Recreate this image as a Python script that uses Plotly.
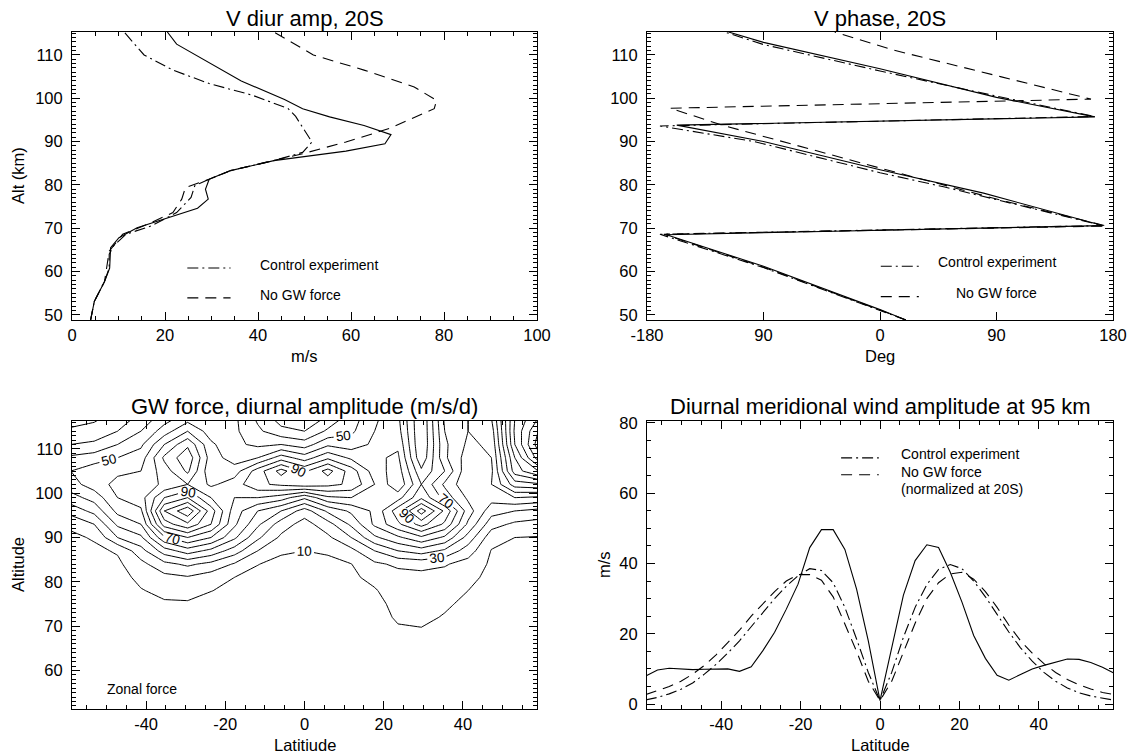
import plotly.graph_objects as go

FONT = "Liberation Sans, Arial, Helvetica, sans-serif"

# ---------------- V diurnal amplitude at 20S (m/s) ----------------
amp_gw_alt = [48.8, 53.1, 57.7, 60.8, 65.5, 67.8, 70.1, 73.2, 74.6, 76.7, 79.0, 81.3, 83.3, 85.6,
              87.8, 89.5, 91.6, 93.7, 95.7, 97.6, 99.7, 104.0, 112.5, 115.3]
amp_gw = [4.0, 4.8, 7.0, 8.1, 8.3, 10.1, 14.0, 23.3, 27.0, 29.3, 28.7, 29.5, 34.1, 43.4,
          58.9, 67.3, 68.6, 62.8, 55.4, 49.6, 45.7, 36.4, 22.5, 20.5]

amp_ctrl_alt = [48.8, 53.1, 57.7, 60.8, 64.0, 66.0, 68.6, 70.5, 73.6, 77.1, 79.8, 81.3, 83.3, 85.6,
                87.5, 89.9, 95.8, 97.6, 100.7, 103.4, 106.5, 110.0, 115.3]
amp_ctrl = [4.0, 4.8, 7.0, 8.0, 8.0, 9.0, 11.6, 17.0, 22.5, 25.6, 26.4, 29.5, 34.1, 43.4,
            49.6, 51.6, 48.1, 46.5, 38.8, 29.5, 21.7, 15.5, 11.2]

amp_nogw_alt = [48.8, 53.1, 57.7, 61.0, 64.7, 68.6, 70.8, 73.6, 76.7, 79.4, 81.3, 83.3, 85.6,
                87.2, 89.9, 93.0, 97.6, 99.5, 102.6, 106.5, 110.0, 115.3]
amp_nogw = [4.0, 4.8, 7.0, 7.5, 8.0, 10.9, 16.0, 21.7, 23.6, 24.4, 29.5, 34.1, 43.4,
            49.6, 58.9, 68.2, 77.9, 78.4, 73.6, 62.8, 51.9, 43.4]

# ---------------- V diurnal phase at 20S (deg) ----------------
ph_gw_alt = [48.8, 51.2, 61.2, 68.5, 70.6, 78.1, 83.5, 90.0, 93.8, 95.7, 100.2, 106.8, 112.9, 115.3]
ph_gw = [20, 0, -90, -165, 172, 80, 0, -90, -157, 166, 90, 0, -90, -117]

ph_ctrl_alt = [48.8, 51.0, 60.9, 68.6, 70.6, 79.5, 82.8, 90.0, 93.6, 95.8, 100.5, 106.3, 112.4, 115.3]
ph_ctrl = [20, 0, -90, -170, 172, 50, 0, -97, -170, 166, 90, 0, -90, -120]

ph_nogw_alt = [48.8, 51.1, 61.0, 68.6, 70.5, 76.5, 83.8, 88.8, 93.8, 97.7, 99.8, 105.0, 111.2, 115.3]
ph_nogw = [20, 0, -90, -167, 175, 93, 1, -60, -122, -162, 163, 93, 9.5, -35]

# ---------------- GW zonal force, diurnal amplitude (m/s/d) ----------------
gw_lat = [-59.0, -53.1, -47.2, -41.3, -35.4, -29.5, -23.6, -17.7, -11.8, -5.9, 0.0,
          5.9, 11.8, 17.7, 23.6, 29.5, 35.4, 41.3, 47.2, 53.1, 59.0]
gw_alt = [51, 54, 57, 60, 63, 66, 69, 72, 75, 78, 81, 84, 87, 90, 93, 96, 99, 102, 105, 108, 111, 114, 117]
gw_force = [
    [1, 1, 1, 1, 1, 1, 1, 1, 1, 1, 1, 1, 1, 2, 2, 2, 2, 2, 1, 1, 1],
    [1, 1, 1, 1, 1, 1, 1, 1, 1, 1, 1, 1, 1, 2, 2, 3, 2, 2, 1, 1, 1],
    [1, 1, 1, 1, 2, 2, 2, 1, 1, 1, 1, 1, 2, 3, 3, 3, 3, 2, 2, 1, 1],
    [1, 1, 1, 2, 2, 2, 2, 2, 1, 1, 1, 1, 2, 3, 4, 4, 4, 3, 2, 1, 1],
    [2, 2, 2, 2, 3, 3, 3, 2, 2, 2, 2, 2, 3, 4, 5, 5, 5, 4, 3, 2, 2],
    [2, 2, 2, 3, 3, 4, 3, 3, 2, 2, 2, 3, 4, 5, 7, 7, 6, 5, 3, 3, 2],
    [2, 2, 3, 4, 5, 5, 5, 4, 3, 3, 3, 4, 5, 6, 9, 9.5, 8, 6, 4, 3, 3],
    [3, 3, 3, 5, 6, 6, 5, 5, 4, 3, 3, 4, 6, 7, 11, 11.5, 9.5, 7, 5, 4, 3],
    [3, 3, 4, 7, 9, 9, 7, 6, 5, 4, 4, 5, 7, 8, 12, 13, 11, 8.5, 6, 5, 4],
    [4, 4, 6, 9.5, 12, 13, 10.2, 8, 6, 5, 5, 6, 8, 9.5, 13, 14, 13, 10, 7, 6, 5],
    [4, 5, 7, 12, 17, 19, 15, 10, 8, 6, 6, 7, 9, 11.5, 16, 17, 16, 12, 8, 7, 6],
    [5, 7, 8, 17, 27, 32, 27, 19, 10.2, 8, 8, 8, 9.8, 18, 22, 23, 21, 16, 8.5, 8, 7],
    [6, 8, 11, 26, 45, 55, 47, 35, 20, 11, 10, 11, 17, 30, 40, 45, 38, 25, 9.5, 7, 6],
    [8, 11, 30, 38, 68, 80, 70, 52, 32, 18, 14, 18, 30, 48, 58, 68, 58, 36, 14, 10, 9.5],
    [12, 20, 42, 50, 95, 108, 90, 62, 42, 25, 16, 26, 42, 62, 78, 94, 78, 48, 24, 18, 16],
    [24, 33, 53, 58, 110, 128, 95, 65, 50, 40, 25, 42, 52, 62, 86, 115, 88, 55, 34, 30, 27],
    [36, 44, 60, 66, 90, 100, 80, 70, 70, 65, 52, 68, 70, 66, 66, 88, 66, 48, 44, 50, 48],
    [46, 55, 63, 64, 72, 80, 68, 75, 88, 92, 96, 93, 88, 70, 52, 80, 58, 42, 50, 75, 78],
    [50, 56, 58, 60, 75, 92, 62, 65, 85, 104, 88, 104, 85, 65, 55, 88, 70, 42, 48, 95, 110],
    [42, 45, 50, 55, 82, 97, 65, 55, 60, 75, 65, 78, 68, 62, 58, 98, 62, 45, 50, 100, 135],
    [30, 32, 40, 48, 70, 88, 62, 52, 48, 50, 45, 58, 55, 62, 62, 100, 62, 48, 52, 110, 145],
    [22, 24, 30, 40, 55, 70, 55, 52, 42, 33, 30, 42, 48, 60, 66, 100, 60, 50, 55, 112, 140],
    [15, 18, 24, 33, 45, 55, 50, 52, 38, 25, 20, 32, 45, 58, 68, 100, 58, 50, 60, 110, 130],
]

# ---------------- Diurnal meridional wind amplitude at 95 km ----------------
lat95 = [-59.0, -56.05, -53.1, -50.15, -47.2, -44.25, -41.3, -38.35, -35.4, -32.45, -29.5,
         -26.55, -23.6, -20.65, -17.7, -14.75, -11.8, -8.85, -5.9, -2.95, 0.0, 2.95, 5.9,
         8.85, 11.8, 14.75, 17.7, 20.65, 23.6, 26.55, 29.5, 32.45, 35.4, 38.35, 41.3,
         44.25, 47.2, 50.15, 53.1, 56.05, 59.0]
v95_gw = [8.0, 9.7, 10.2, 9.9, 9.8, 9.9, 10.0, 10.0, 9.3, 10.6, 15.2,
          20.4, 27.0, 34.1, 44.5, 49.6, 49.6, 44.0, 32.7, 18.0, 1.0, 16.5, 31.0,
          40.8, 45.3, 44.5, 37.5, 29.0, 19.5, 13.0, 8.2, 6.8, 8.5, 10.0, 11.0,
          12.0, 12.8, 12.7, 11.8, 10.5, 8.8]
v95_ctrl = [1.2, 1.9, 2.9, 4.2, 6.0, 8.5, 11.3, 14.5, 18.0, 22.0, 26.0,
            30.0, 33.5, 36.5, 38.5, 38.0, 34.5, 27.5, 18.5, 9.0, 1.0, 9.0, 19.0,
            27.5, 34.0, 38.3, 39.7, 38.5, 35.0, 30.5, 25.5, 20.5, 16.0, 12.2, 9.0,
            6.5, 4.6, 3.2, 2.3, 1.6, 1.1]
v95_nogw = [2.7, 3.8, 5.0, 6.5, 8.5, 11.0, 14.0, 17.5, 21.0, 25.0, 28.5,
            32.0, 35.0, 36.8, 36.8, 35.2, 30.5, 23.0, 15.0, 6.5, 1.0, 6.5, 15.0,
            23.0, 30.0, 34.5, 37.0, 37.5, 35.5, 32.0, 27.5, 22.5, 18.0, 14.5, 11.5,
            9.0, 7.0, 5.5, 4.3, 3.3, 2.7]

legend_names = ["Control experiment", "No GW force"]

DASH = "11px,7px"
DASHDOT = "11px,4px,2px,4px"
LW = 1.1

fig = go.Figure()


def add_line(x, y, xa, ya, dash):
    fig.add_trace(go.Scatter(x=x, y=y, mode="lines", xaxis=xa, yaxis=ya, showlegend=False,
                             line=dict(color="black", width=LW, dash=dash), hoverinfo="skip"))


# top-left: amplitude profiles
add_line(amp_gw, amp_gw_alt, "x", "y", "solid")
add_line(amp_ctrl, amp_ctrl_alt, "x", "y", DASHDOT)
add_line(amp_nogw, amp_nogw_alt, "x", "y", DASH)

# top-right: phase profiles
add_line(ph_gw, ph_gw_alt, "x2", "y2", "solid")
add_line(ph_ctrl, ph_ctrl_alt, "x2", "y2", DASHDOT)
add_line(ph_nogw, ph_nogw_alt, "x2", "y2", DASH)

# bottom-left: contour of GW force amplitude, odd levels labelled
for start, labelled in [(10, True), (20, False)]:
    fig.add_trace(go.Contour(
        x=gw_lat, y=gw_alt, z=gw_force, xaxis="x3", yaxis="y3", showlegend=False,
        contours=dict(start=start, end=170, size=20, coloring="none",
                      showlabels=labelled,
                      labelfont=dict(family=FONT, size=13.5, color="black")),
        line=dict(color="black", width=1, smoothing=0),
        showscale=False, hoverinfo="skip"))

# bottom-right: latitude profiles at 95 km
add_line(lat95, v95_gw, "x4", "y4", "solid")
add_line(lat95, v95_ctrl, "x4", "y4", DASHDOT)
add_line(lat95, v95_nogw, "x4", "y4", DASH)

W, H = 1133, 756


def px(a, b):
    return [a / W, b / W]


def py(top, bot):
    return [1 - bot / H, 1 - top / H]


dom_x_left = px(72, 537)
dom_x_right = px(647, 1113)
dom_y_top = py(32, 320)
dom_y_bot = py(421, 709)

tickfont = dict(family=FONT, size=16.5, color="black")
lat_ticks = [-40, -20, 0, 20, 40]
lat_text = ["-40", "-20", "0", "20", "40"]


def axis(domain, anchor, rng, dtick=None, minor=None, tickvals=None, ticktext=None, standoff=5):
    d = dict(domain=domain, anchor=anchor, range=rng, showgrid=False, zeroline=False,
             showline=True, linecolor="black", linewidth=1, mirror="allticks",
             ticks="inside", ticklen=8, tickwidth=1, tickcolor="black",
             tickfont=tickfont, automargin=False, ticklabelstandoff=standoff)
    if dtick is not None:
        d["dtick"] = dtick
        d["tick0"] = 0
    if tickvals is not None:
        d["tickmode"] = "array"
        d["tickvals"] = tickvals
        d["ticktext"] = ticktext
    if minor is not None:
        d["minor"] = dict(dtick=minor, tick0=0, ticks="inside", ticklen=4, tickwidth=1, tickcolor="black")
    return d


fig.update_layout(
    width=W, height=H, margin=dict(l=0, r=0, t=0, b=0),
    paper_bgcolor="white", plot_bgcolor="white", showlegend=False,
    font=dict(family=FONT, color="black"),
    xaxis=axis(dom_x_left, "y", [0, 100], dtick=20, minor=5, standoff=0),
    yaxis=axis(dom_y_top, "x", [48.8, 115.3], dtick=10, minor=1),
    xaxis2=axis(dom_x_right, "y2", [-180, 180], tickvals=[-180, -90, 0, 90, 180],
                ticktext=["-180", "90", "0", "90", "180"], standoff=0),
    yaxis2=axis(dom_y_top, "x2", [48.8, 115.3], dtick=10, minor=1),
    xaxis3=axis(dom_x_left, "y3", [-58.7, 58.7], minor=5, tickvals=lat_ticks, ticktext=lat_text, standoff=0),
    yaxis3=axis(dom_y_bot, "x3", [51.3, 116.3], dtick=10, minor=1),
    xaxis4=axis(dom_x_right, "y4", [-58.7, 58.7], minor=5, tickvals=lat_ticks, ticktext=lat_text, standoff=0),
    yaxis4=axis(dom_y_bot, "x4", [-1.4, 80.5], dtick=20, minor=5),
)

annotations = []
titles = [("V diur amp, 20S", 304.5, 19), ("V phase, 20S", 880, 19),
          ("GW force, diurnal amplitude (m/s/d)", 304.5, 406),
          ("Diurnal meridional wind amplitude at 95 km", 880, 406)]
for text, cx, cy in titles:
    annotations.append(dict(text=text, x=cx / W, y=1 - cy / H, xref="paper", yref="paper",
                            xanchor="center", yanchor="middle", showarrow=False,
                            font=dict(family=FONT, size=22, color="black")))

# axis titles
axis_titles = [("m/s", 304.5, 356, 0), ("Deg", 880, 356, 0), ("Latitiude", 304.5, 745, 0),
               ("Latitude", 880, 745, 0), ("Alt (km)", 18, 176, -90), ("Altitude", 18, 565, -90),
               ("m/s", 604, 565, -90)]
for text, cx, cy, ang in axis_titles:
    annotations.append(dict(text=text, x=cx / W, y=1 - cy / H, xref="paper", yref="paper",
                            xanchor="center", yanchor="middle", showarrow=False, textangle=ang,
                            font=dict(family=FONT, size=16.5, color="black")))

lfont = dict(family=FONT, size=14, color="black")
annotations += [
    dict(text=legend_names[0], x=39.9, y=61.6, xref="x", yref="y", xanchor="left", showarrow=False, font=lfont),
    dict(text=legend_names[1], x=39.9, y=54.6, xref="x", yref="y", xanchor="left", showarrow=False, font=lfont),
    dict(text=legend_names[0], x=90, y=62.2, xref="x2", yref="y2", xanchor="center", showarrow=False, font=lfont),
    dict(text=legend_names[1], x=90, y=55.0, xref="x2", yref="y2", xanchor="center", showarrow=False, font=lfont),
    dict(text=legend_names[0], x=4.9, y=71.2, xref="x4", yref="y4", xanchor="left", showarrow=False, font=lfont),
    dict(text=legend_names[1], x=4.9, y=66.1, xref="x4", yref="y4", xanchor="left", showarrow=False, font=lfont),
    dict(text="(normalized at 20S)", x=4.9, y=61.1, xref="x4", yref="y4", xanchor="left", showarrow=False, font=lfont),
    dict(text="Zonal force", x=-50.3, y=55.9, xref="x3", yref="y3", xanchor="left", showarrow=False, font=lfont),
]
fig.update_layout(annotations=annotations)

# legend line samples
samples = [("x", "y", 24.8, 34.1, 60.8, 53.9), ("x2", "y2", 0.6, 30, 61.2, 54.2),
           ("x4", "y4", -9.8, -0.3, 70.0, 65.2)]
shapes = []
for xr, yr, x0, x1, yc, yd in samples:
    shapes.append(dict(type="line", xref=xr, yref=yr, x0=x0, x1=x1, y0=yc, y1=yc,
                       line=dict(color="black", width=LW, dash=DASHDOT)))
    shapes.append(dict(type="line", xref=xr, yref=yr, x0=x0, x1=x1, y0=yd, y1=yd,
                       line=dict(color="black", width=LW, dash=DASH)))
fig.update_layout(shapes=shapes)

fig.write_html("out.html")
